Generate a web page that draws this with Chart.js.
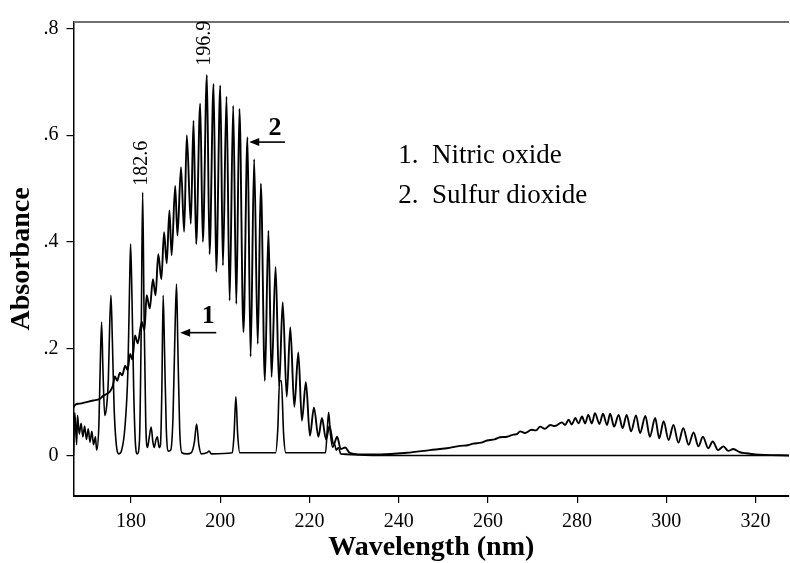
<!DOCTYPE html>
<html>
<head>
<meta charset="utf-8">
<script src="https://cdn.jsdelivr.net/npm/chart.js@4.4.0/dist/chart.umd.min.js"></script>
<style>
  body { margin: 0; background: #fff; }
  #wrap { width: 790px; height: 563px; }
</style>
</head>
<body>
<div id="wrap"><canvas id="spectrum" width="790" height="563"></canvas></div>
<script>
// axis ticks
const xTicks = [180, 200, 220, 240, 260, 280, 300, 320];
const yTicks = [0, 0.2, 0.4, 0.6, 0.8];

// 1. Nitric oxide - wavelength (nm) / absorbance
const noWl = [
  167.1, 167.4, 167.8, 168.0, 168.4, 168.8, 169.2, 169.6, 170.0, 170.4,
  170.8, 171.2, 171.6, 172.0, 172.3, 172.8, 173.1, 173.4, 173.7, 174.1,
  174.5, 174.9, 175.2, 175.5, 175.8, 176.2, 176.7, 177.3, 177.9, 178.6,
  179.3, 179.7, 179.9, 180.2, 180.6, 181.0, 181.4, 181.9, 182.3, 182.6,
  182.9, 183.3, 183.7, 184.1, 184.5, 184.9, 185.2, 185.6, 185.9, 186.3,
  186.6, 186.9, 187.2, 187.5, 187.9, 188.4, 188.9, 189.4, 189.9, 190.2,
  190.5, 190.9, 191.4, 192.5, 193.5, 194.2, 194.7, 195.2, 195.8, 197.0,
  197.5, 198.0, 202.7, 203.1, 203.5, 203.9, 204.4, 212.4, 212.9, 213.3,
  213.7, 214.2, 214.7, 223.6, 224.0, 224.3, 224.7, 225.2, 225.6, 226.0,
  226.5, 227.0, 240.0, 327.5
];
const noAbs = [
  0.0, 0.08, 0.02, 0.075, 0.04, 0.06, 0.035, 0.055, 0.03, 0.05,
  0.025, 0.045, 0.02, 0.035, 0.01, 0.06, 0.17, 0.25, 0.16, 0.075,
  0.09, 0.14, 0.24, 0.30, 0.22, 0.09, 0.02, 0.003, 0.01, 0.05,
  0.16, 0.33, 0.396, 0.30, 0.12, 0.02, 0.003, 0.03, 0.25, 0.493,
  0.28, 0.06, 0.015, 0.035, 0.053, 0.025, 0.015, 0.03, 0.035, 0.015,
  0.02, 0.12, 0.30, 0.20, 0.05, 0.008, 0.01, 0.07, 0.25, 0.321,
  0.20, 0.05, 0.005, 0.003, 0.005, 0.025, 0.059, 0.02, 0.003, 0.005,
  0.008, 0.003, 0.005, 0.04, 0.11, 0.04, 0.005, 0.005, 0.05, 0.14,
  0.14, 0.04, 0.005, 0.005, 0.05, 0.081, 0.04, 0.015, 0.022, 0.01,
  0.015, 0.003, 0.0, 0.0
];

// 2. Sulfur dioxide - wavelength (nm) / absorbance (peaks and troughs)
const so2Wl = [
  167.1, 167.5, 168.5, 170.0, 171.5, 173.0, 173.8, 174.5, 175.3, 175.9,
  176.4, 176.9, 177.5, 178.0, 178.7, 179.2, 179.8, 180.3, 180.9, 181.5,
  182.4, 183.0, 183.5, 184.2, 184.9, 185.5, 186.1, 186.8, 187.4, 188.0,
  188.6, 189.1, 189.9, 190.4, 191.2, 191.9, 192.5, 193.4, 194.0, 194.6,
  195.5, 196.1, 197.0, 197.6, 198.5, 199.1, 200.0, 200.6, 201.4, 202.1,
  202.9, 203.6, 204.3, 205.2, 206.1, 206.8, 207.6, 208.4, 209.1, 210.0,
  210.8, 211.5, 212.4, 213.2, 214.0, 214.9, 215.7, 216.6, 217.5, 218.3,
  219.2, 220.1, 221.0, 222.0, 222.8, 223.7, 224.5, 225.4, 226.2, 227.0,
  228.0, 229.0, 231.0, 236.0, 241.8, 247.0, 250.8, 253.8, 255.5, 256.7,
  258.5, 259.8, 261.5, 262.7, 264.3, 265.7, 266.5, 267.2, 268.3, 269.8,
  270.8, 271.7, 272.8, 274.0, 275.0, 276.6, 277.3, 278.1, 278.8, 279.6,
  280.3, 281.1, 281.8, 282.5, 283.3, 284.0, 285.0, 285.8, 286.7, 287.4,
  288.3, 289.3, 290.2, 291.1, 292.1, 293.2, 294.1, 295.3, 296.3, 297.5,
  298.4, 299.4, 300.5, 301.6, 302.7, 303.8, 305.0, 306.1, 307.2, 308.2,
  309.4, 310.4, 311.6, 312.8, 313.9, 315.0, 316.5, 318.0, 320.0, 322.0,
  327.5
];
const so2Abs = [
  0.09, 0.095, 0.097, 0.100, 0.103, 0.106, 0.112, 0.115, 0.12, 0.13,
  0.148, 0.14, 0.155, 0.15, 0.168, 0.16, 0.19, 0.18, 0.225, 0.21,
  0.25, 0.235, 0.30, 0.275, 0.33, 0.30, 0.377, 0.33, 0.418, 0.36,
  0.459, 0.375, 0.505, 0.412, 0.54, 0.419, 0.60, 0.434, 0.627, 0.396,
  0.659, 0.40, 0.713, 0.377, 0.696, 0.344, 0.693, 0.356, 0.672, 0.29,
  0.655, 0.284, 0.649, 0.231, 0.596, 0.185, 0.555, 0.209, 0.509, 0.14,
  0.421, 0.147, 0.353, 0.13, 0.287, 0.11, 0.24, 0.091, 0.193, 0.065,
  0.137, 0.037, 0.09, 0.035, 0.07, 0.03, 0.055, 0.02, 0.035, 0.012,
  0.015, 0.005, 0.002, 0.002, 0.005, 0.010, 0.0135, 0.018, 0.019, 0.022,
  0.024, 0.028, 0.030, 0.034, 0.035, 0.039, 0.040, 0.045, 0.042, 0.048,
  0.047, 0.054, 0.050, 0.057, 0.055, 0.062, 0.057, 0.067, 0.058, 0.070,
  0.060, 0.073, 0.060, 0.076, 0.060, 0.079, 0.059, 0.078, 0.057, 0.078,
  0.054, 0.076, 0.051, 0.076, 0.045, 0.075, 0.042, 0.074, 0.035, 0.070,
  0.032, 0.064, 0.029, 0.057, 0.024, 0.051, 0.020, 0.043, 0.017, 0.035,
  0.0135, 0.026, 0.010, 0.017, 0.0085, 0.012, 0.006, 0.004, 0.002, 0.001,
  0.0
];

const legendLines = ['1.  Nitric oxide', '2.  Sulfur dioxide'];

const SERIF = '"Liberation Serif", "Times New Roman", serif';

function toPoints(xs, ys) {
  return xs.map((v, i) => ({ x: v, y: ys[i] }));
}

// labels, arrows, legend text and the top frame line
const notesPlugin = {
  id: 'notes',
  afterDraw(chart) {
    const { ctx, chartArea, scales: { x, y } } = chart;
    ctx.save();

    ctx.strokeStyle = '#707070';
    ctx.lineWidth = 2;
    ctx.beginPath();
    ctx.moveTo(chartArea.left, chartArea.top);
    ctx.lineTo(chartArea.right, chartArea.top);
    ctx.stroke();

    ctx.fillStyle = '#000';
    ctx.strokeStyle = '#000';

    // rotated peak labels
    ctx.font = '20px ' + SERIF;
    ctx.textAlign = 'left';
    ctx.textBaseline = 'middle';
    [['182.6', 182.5, 0.505], ['196.9', 196.6, 0.73]].forEach(([t, wl, a]) => {
      ctx.save();
      ctx.translate(x.getPixelForValue(wl), y.getPixelForValue(a));
      ctx.rotate(-Math.PI / 2);
      ctx.fillText(t, 0, 0);
      ctx.restore();
    });

    // arrows
    ctx.lineWidth = 1.6;
    [[206.5, 214.5, 0.587], [191.0, 199.1, 0.23]].forEach(([w1, w2, a]) => {
      const x1 = x.getPixelForValue(w1), x2 = x.getPixelForValue(w2), yy = y.getPixelForValue(a);
      ctx.beginPath();
      ctx.moveTo(x1 + 6, yy);
      ctx.lineTo(x2, yy);
      ctx.stroke();
      ctx.beginPath();
      ctx.moveTo(x1, yy);
      ctx.lineTo(x1 + 10, yy - 4);
      ctx.lineTo(x1 + 10, yy + 4);
      ctx.closePath();
      ctx.fill();
    });

    ctx.font = 'bold 26px ' + SERIF;
    ctx.textAlign = 'center';
    ctx.fillText('2', x.getPixelForValue(212.3), y.getPixelForValue(0.613));
    ctx.fillText('1', x.getPixelForValue(197.3), y.getPixelForValue(0.26));

    // legend
    ctx.font = '27px ' + SERIF;
    ctx.textAlign = 'left';
    ctx.fillText(legendLines[0], x.getPixelForValue(239.9), y.getPixelForValue(0.562));
    ctx.fillText(legendLines[1], x.getPixelForValue(239.9), y.getPixelForValue(0.487));

    ctx.restore();
  }
};

const lineStyle = {
  borderColor: '#000',
  pointRadius: 0,
  fill: false,
  cubicInterpolationMode: 'monotone'
};

new Chart(document.getElementById('spectrum'), {
  type: 'line',
  data: {
    datasets: [
      Object.assign({ label: 'Nitric oxide', data: toPoints(noWl, noAbs), borderWidth: 1.6 }, lineStyle),
      Object.assign({ label: 'Sulfur dioxide', data: toPoints(so2Wl, so2Abs), borderWidth: 1.9 }, lineStyle)
    ]
  },
  options: {
    responsive: false,
    animation: false,
    layout: { padding: { top: 22, right: 1, left: 0, bottom: 0 } },
    plugins: {
      legend: { display: false },
      tooltip: { enabled: false }
    },
    scales: {
      x: {
        type: 'linear',
        min: 167.1,
        max: 327.5,
        afterBuildTicks: axis => { axis.ticks = xTicks.map(v => ({ value: v })); },
        afterFit: scale => { scale.height = 67; },
        grid: { drawOnChartArea: false, drawTicks: true, tickLength: 7, color: '#000', lineWidth: 1.2 },
        border: { display: true, color: '#000', width: 2 },
        ticks: { color: '#000', font: { family: SERIF, size: 20 }, padding: 7, maxRotation: 0 },
        title: {
          display: true,
          text: 'Wavelength (nm)',
          color: '#000',
          font: { family: SERIF, size: 28, weight: 'bold', lineHeight: 1.1 },
          padding: { top: 0, bottom: 0 }
        }
      },
      y: {
        min: -0.076,
        max: 0.812,
        afterBuildTicks: axis => { axis.ticks = yTicks.map(v => ({ value: v })); },
        afterFit: scale => { scale.width = 73.5; },
        grid: { drawOnChartArea: false, drawTicks: true, tickLength: 7, color: '#000', lineWidth: 1.2 },
        border: { display: true, color: '#000', width: 1.5 },
        ticks: {
          color: '#000',
          font: { family: SERIF, size: 20 },
          padding: 8,
          callback: v => (v === 0 ? '0' : v.toFixed(1).replace('0.', '.'))
        },
        title: {
          display: true,
          text: 'Absorbance',
          color: '#000',
          font: { family: SERIF, size: 28, weight: 'bold' },
          padding: { top: 5, bottom: 0 }
        }
      }
    }
  },
  plugins: [notesPlugin]
});
</script>
</body>
</html>
